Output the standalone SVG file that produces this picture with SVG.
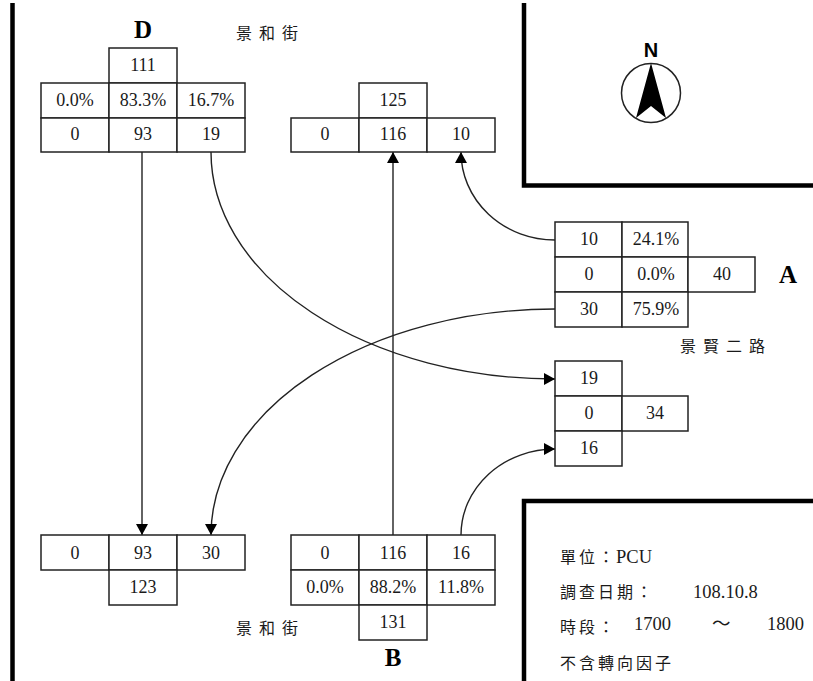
<svg xmlns="http://www.w3.org/2000/svg" width="813" height="681" viewBox="0 0 813 681">
<style>
.c{fill:#fff;stroke:#222;stroke-width:1.5}
.t{font-family:"Liberation Serif","Noto Sans CJK TC",serif;font-size:18px;fill:#1a1a1a;text-anchor:middle}
.l{font-family:"Liberation Serif","Noto Sans CJK TC",serif;font-size:18.500px;fill:#1a1a1a}
.z{font-family:"Noto Sans CJK TC",serif;font-size:16px;fill:#1a1a1a}
.b{font-family:"Liberation Serif",serif;font-size:25px;font-weight:bold;fill:#000;text-anchor:middle}
.w{fill:none;stroke:#000;stroke-width:4.5}
.k{fill:none;stroke:#222;stroke-width:1.4}
</style>
<defs>
<marker id="a" markerUnits="userSpaceOnUse" markerWidth="12" markerHeight="13" refX="11" refY="6" orient="auto"><path d="M0,0L11,6L0,12z" fill="#000"/></marker>
</defs>
<g id="road-edges">
<path class="w" d="M12.500,3V681"/>
<path class="w" d="M813,185.500H524V3"/>
<path class="w" d="M813,501H524V681"/>
</g>
<g id="connectors">
<path class="k" marker-end="url(#a)" d="M142,152V535"/>
<path class="k" marker-end="url(#a)" d="M211,152A344,227 0 0 0 555,379"/>
<path class="k" marker-end="url(#a)" d="M555,309A344,226 0 0 0 211,535"/>
<path class="k" marker-end="url(#a)" d="M393,535V152"/>
<path class="k" marker-end="url(#a)" d="M555,240A94,88 0 0 1 461,152"/>
<path class="k" marker-end="url(#a)" d="M461,535A94,86 0 0 1 555,449"/>
</g>
<g id="node-D">
<rect class="c" x="109" y="48" width="68" height="35"/><rect class="c" x="41" y="83" width="68" height="35"/><rect class="c" x="109" y="83" width="68" height="35"/><rect class="c" x="177" y="83" width="68" height="35"/><rect class="c" x="41" y="118" width="68" height="34"/><rect class="c" x="109" y="118" width="68" height="34"/><rect class="c" x="177" y="118" width="68" height="34"/>
<text class="t" x="143" y="71">111</text><text class="t" x="75" y="106">0.0%</text><text class="t" x="143" y="106">83.3%</text><text class="t" x="211" y="106">16.7%</text><text class="t" x="75" y="140">0</text><text class="t" x="143" y="140">93</text><text class="t" x="211" y="140">19</text>
<text class="b" x="143" y="38">D</text>
</g>
<g id="node-C">
<rect class="c" x="359" y="83" width="68" height="35"/><rect class="c" x="291" y="118" width="68" height="34"/><rect class="c" x="359" y="118" width="68" height="34"/><rect class="c" x="427" y="118" width="68" height="34"/>
<text class="t" x="393" y="106">125</text><text class="t" x="325" y="140">0</text><text class="t" x="393" y="140">116</text><text class="t" x="461" y="140">10</text>
</g>
<g id="node-A">
<rect class="c" x="555" y="222" width="67" height="35"/><rect class="c" x="622" y="222" width="66" height="35"/><rect class="c" x="555" y="257" width="67" height="35"/><rect class="c" x="622" y="257" width="66" height="35"/><rect class="c" x="688" y="257" width="67" height="35"/><rect class="c" x="555" y="292" width="67" height="35"/><rect class="c" x="622" y="292" width="66" height="35"/>
<text class="t" x="589" y="245">10</text><text class="t" x="656" y="245">24.1%</text><text class="t" x="589" y="280">0</text><text class="t" x="656" y="280">0.0%</text><text class="t" x="722" y="280">40</text><text class="t" x="589" y="315">30</text><text class="t" x="656" y="315">75.9%</text>
<text class="b" x="788" y="283">A</text>
</g>
<g id="node-E">
<rect class="c" x="555" y="361" width="67" height="35"/><rect class="c" x="555" y="396" width="67" height="35"/><rect class="c" x="622" y="396" width="66" height="35"/><rect class="c" x="555" y="431" width="67" height="35"/>
<text class="t" x="589" y="384">19</text><text class="t" x="589" y="419">0</text><text class="t" x="655" y="419">34</text><text class="t" x="589" y="454">16</text>
</g>
<g id="node-F">
<rect class="c" x="41" y="535" width="68" height="35"/><rect class="c" x="109" y="535" width="68" height="35"/><rect class="c" x="177" y="535" width="68" height="35"/><rect class="c" x="109" y="570" width="68" height="35"/>
<text class="t" x="75" y="559">0</text><text class="t" x="143" y="559">93</text><text class="t" x="211" y="559">30</text><text class="t" x="143" y="593">123</text>
</g>
<g id="node-B">
<rect class="c" x="291" y="535" width="68" height="35"/><rect class="c" x="359" y="535" width="68" height="35"/><rect class="c" x="427" y="535" width="68" height="35"/><rect class="c" x="291" y="570" width="68" height="35"/><rect class="c" x="359" y="570" width="68" height="35"/><rect class="c" x="427" y="570" width="68" height="35"/><rect class="c" x="359" y="605" width="68" height="35"/>
<text class="t" x="325" y="559">0</text><text class="t" x="393" y="559">116</text><text class="t" x="461" y="559">16</text><text class="t" x="325" y="593">0.0%</text><text class="t" x="393" y="593">88.2%</text><text class="t" x="461" y="593">11.8%</text><text class="t" x="393" y="628">131</text>
<text class="b" x="393" y="666">B</text>
</g>
<g id="street-labels">
<text class="z" x="236" y="39" letter-spacing="7">景和街</text>
<text class="z" x="236" y="634" letter-spacing="7">景和街</text>
<text class="z" x="680" y="352" letter-spacing="7">景賢二路</text>
</g>
<g id="north">
<text x="651" y="57" font-family="Liberation Sans,sans-serif" font-size="20" font-weight="bold" fill="#000" text-anchor="middle">N</text>
<circle cx="651" cy="93" r="29.500" fill="#fff" stroke="#222" stroke-width="1.500"/>
<path d="M651,63L636,118L651,106L666,118z" fill="#000"/>
</g>
<g id="legend">
<text class="z" x="560" y="563" letter-spacing="3">單位：</text><text class="l" x="616" y="563">PCU</text>
<text class="z" x="560" y="598" letter-spacing="3">調查日期：</text><text class="l" x="693" y="598">108.10.8</text>
<text class="z" x="560" y="633" letter-spacing="3">時段：</text><text class="l" x="634" y="630">1700</text><text class="l" x="712" y="630">～</text><text class="l" x="767" y="630">1800</text>
<text class="z" x="560" y="669" letter-spacing="3">不含轉向因子</text>
</g>
</svg>
